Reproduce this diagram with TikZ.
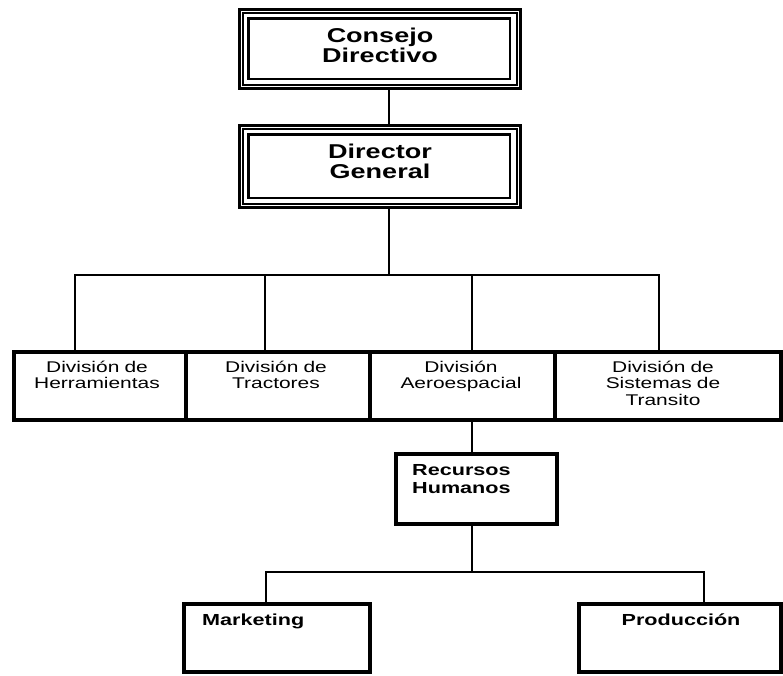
\documentclass[tikz,border=0pt]{standalone}
\usepackage{fontspec}
\setmainfont{Liberation Sans}
\newfontfamily\chartfont[FakeStretch=1.35]{Liberation Sans}
\begin{document}
\begin{tikzpicture}[x=1pt,y=-1pt,
  link/.style={line width=1.2pt},
  headbox/.style={draw, line width=3pt, inner sep=0pt, anchor=north west},
  unitbox/.style={draw, line width=4pt, inner sep=0pt, anchor=north west},
  headtext/.style={inner sep=0pt, anchor=base, text width=200pt, align=center,
    font=\chartfont\bfseries\fontsize{20}{20.5}\selectfont},
  divtext/.style={inner sep=0pt, anchor=base, text width=170pt, align=center,
    font=\chartfont\fontsize{15.5}{16.5}\selectfont},
  subtext/.style={inner sep=0pt, text width=150pt,
    font=\chartfont\bfseries\fontsize{16}{18}\selectfont},
  innerline/.style={line width=2pt},
  innerline2/.style={line width=2.5pt}
]
\fill[white] (0,0) rectangle (783,675);
\useasboundingbox (0,0) rectangle (783,675);

% top management boxes with triple frame
\node[headbox, minimum width=281pt, minimum height=79pt] (consejo) at (237.5,7.5) {};
\node[headbox, minimum width=281pt, minimum height=82pt] (general) at (237.5,123.5) {};
\foreach \b in {consejo,general}{
  \draw[innerline] ([shift={(5.5pt,5pt)}]\b.south west) rectangle ([shift={(-5pt,-5.5pt)}]\b.north east);
  \draw[innerline2] ([shift={(11pt,10.5pt)}]\b.south west) rectangle ([shift={(-11.5pt,-11pt)}]\b.north east);
}
\node[headtext] (consejoT) at (380,42) {Consejo\\Directivo};
\node[headtext] (generalT) at (380,158) {Director\\General};

% divisions
\node[unitbox, minimum width=172pt, minimum height=68pt] (d1) at (12,350) {};
\node[unitbox, minimum width=184pt, minimum height=68pt] (d2) at (184,350) {};
\node[unitbox, minimum width=185pt, minimum height=68pt] (d3) at (368,350) {};
\node[unitbox, minimum width=226pt, minimum height=68pt] (d4) at (553,350) {};
\node[divtext] (d1T) at (97,372) {División de\\Herramientas};
\node[divtext] (d2T) at (276,372) {División de\\Tractores};
\node[divtext] (d3T) at (461,372) {División\\Aeroespacial};
\node[divtext] (d4T) at (663,372) {División de\\Sistemas de\\Transito};

% departments
\node[unitbox, minimum width=161pt, minimum height=70pt] (recursos) at (394,452) {};
\node[subtext, anchor=base west, align=left] (recursosT) at (412,475) {Recursos\\Humanos};
\node[unitbox, minimum width=186pt, minimum height=68pt] (marketing) at (182,602) {};
\node[subtext, anchor=base west, align=left] (marketingT) at (202,625) {Marketing};
\node[unitbox, minimum width=202pt, minimum height=68pt] (produccion) at (577,602) {};
\node[subtext, anchor=base, align=center] (produccionT) at (681,625) {Producción};

% connectors
\coordinate (trunk) at (389,0);
\coordinate (b1) at (75,275);
\coordinate (b2) at (265,275);
\coordinate (b3) at (472,275);
\coordinate (b4) at (659,275);
\coordinate (m1) at (266,572);
\coordinate (m2) at (704,572);

\draw[link] (consejo.south -| trunk) -- (general.north -| trunk);
\draw[link] (general.south -| trunk) -- (trunk |- b1);
\draw[link] (d1.north -| b1) -- (b1) -- (b4) -- (d4.north -| b4);
\draw[link] (b2) -- (d2.north -| b2);
\draw[link] (b3) -- (d3.north -| b3);
\draw[link] (d3.south -| b3) -- (recursos.north -| b3);
\draw[link] (recursos.south -| b3) -- (b3 |- m1);
\draw[link] (marketing.north -| m1) -- (m1) -- (m2) -- (produccion.north -| m2);
\end{tikzpicture}
\end{document}
